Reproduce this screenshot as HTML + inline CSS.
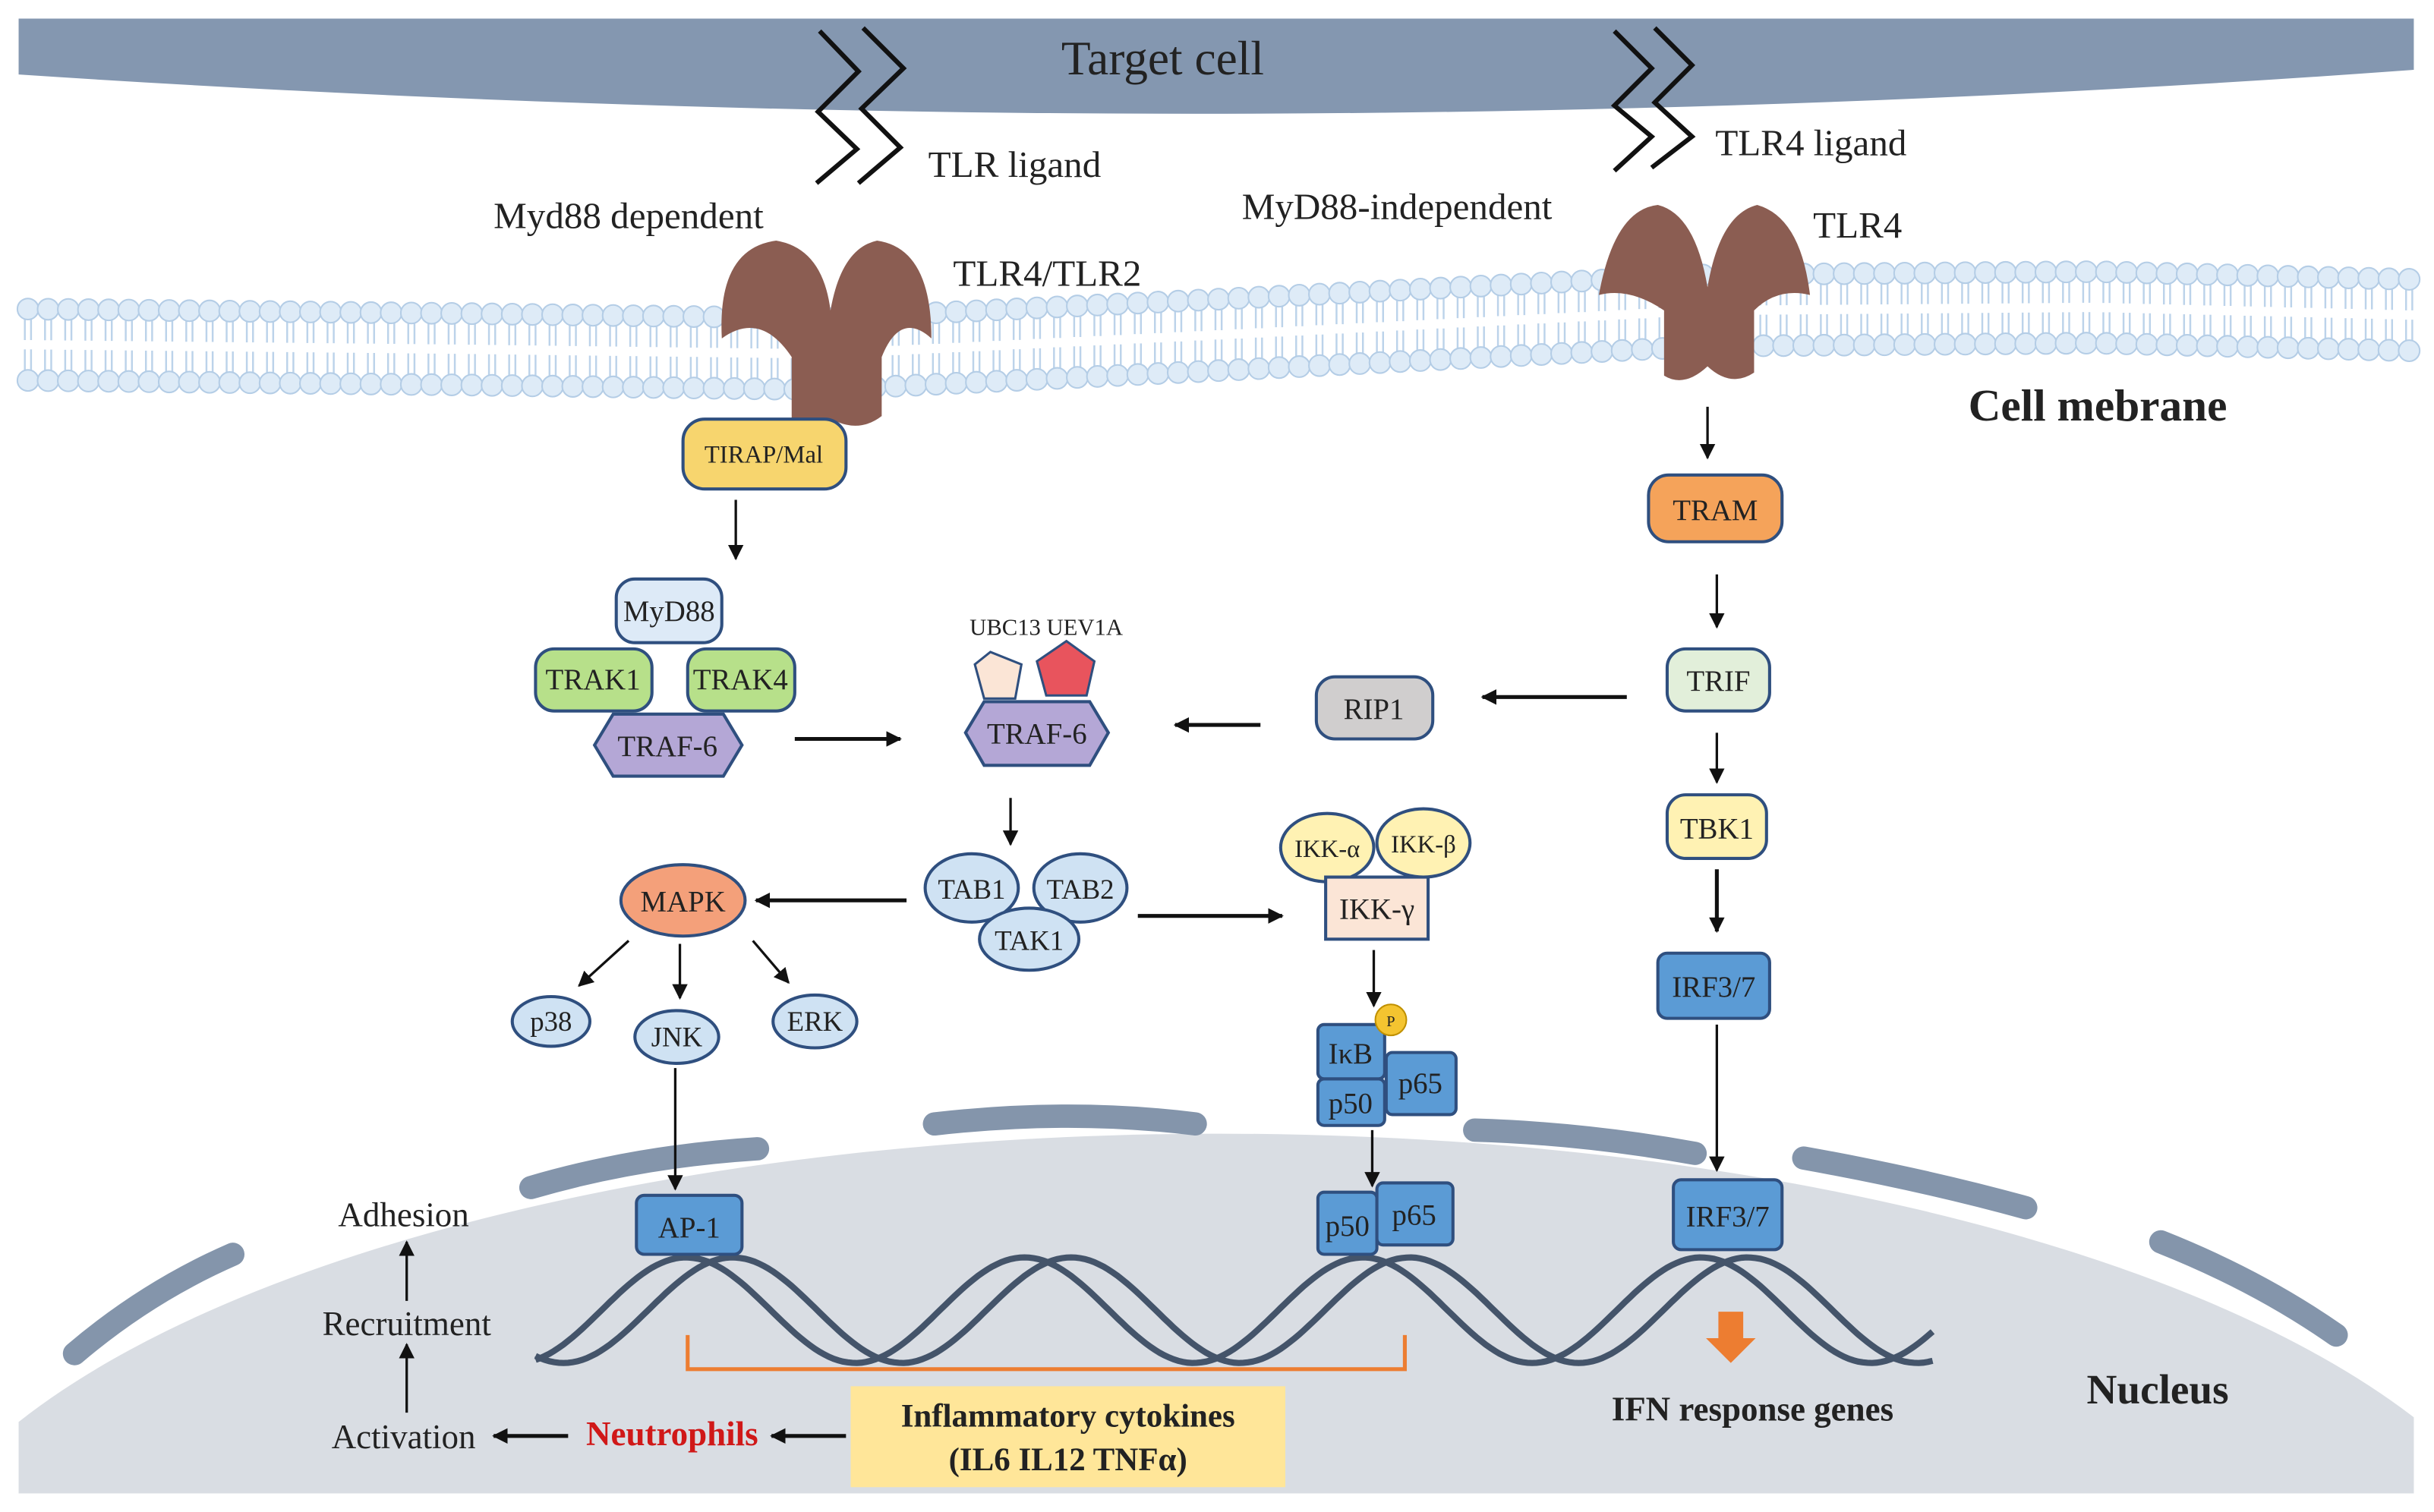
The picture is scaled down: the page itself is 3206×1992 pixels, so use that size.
<!DOCTYPE html>
<html><head><meta charset="utf-8"><style>
html,body{margin:0;padding:0;background:#fff;width:3206px;height:1992px;overflow:hidden;}
svg{display:block;}
text{font-family:"Liberation Serif",serif;fill:#222;}
</style></head><body>
<svg id="s" width="3206" height="1992" viewBox="0 0 1568 974" preserveAspectRatio="none" xmlns="http://www.w3.org/2000/svg">
<defs>
<marker id="ab" viewBox="0 0 10 10" refX="9" refY="5" markerWidth="10" markerHeight="10" orient="auto" markerUnits="userSpaceOnUse"><path d="M0,0 L10,5 L0,10 z" fill="#111"/></marker>
</defs>
<rect width="1568" height="974" fill="#fff"/>
<path d="M12,12 L1555,12 L1555,45 Q800,100 12,48 Z" fill="#8497b0"/>
<text x="749" y="48" font-size="31" text-anchor="middle">Target cell</text>
<g fill="none" stroke="#111" stroke-width="3">
<polyline points="528,20 553,46 527,72 552,96 526,118"/>
<polyline points="556,18 582,44 555,70 580,95 553,118"/>
<polyline points="1040,20 1064,44 1040,68 1064,88 1040,110"/>
<polyline points="1066,18 1090,42 1066,66 1090,88 1064,108"/>
</g>
<text x="598" y="114" font-size="24">TLR ligand</text>
<text x="318" y="147" font-size="24">Myd88 dependent</text>
<text x="614" y="184" font-size="24">TLR4/TLR2</text>
<text x="800" y="141" font-size="24">MyD88-independent</text>
<text x="1105" y="100" font-size="24">TLR4 ligand</text>
<text x="1168" y="153" font-size="24">TLR4</text>
<text x="1268" y="271" font-size="29" font-weight="bold">Cell mebrane</text>
<g id="mem"></g>
<g fill="#8b5d52">
<path d="M510,272 L510,230 Q490,200 465,218 Q462,160 500,155 Q530,160 535,200 Q542,160 565,155 Q600,160 600,218 Q580,200 568,230 L568,268 Q555,278 540,272 Z"/>
<path d="M1072,242 L1072,200 Q1050,185 1030,190 Q1040,135 1068,132 Q1092,138 1100,185 Q1108,138 1132,132 Q1160,140 1166,190 Q1145,185 1130,200 L1130,240 Q1115,250 1100,236 Q1085,250 1072,242 Z"/>
</g>
<path d="M12,962 L12,916 A860,330 0 0 1 1555,913 L1555,962 Z" fill="#d9dde3"/>
<g fill="none" stroke="#8495ab" stroke-width="15" stroke-linecap="round">
<path d="M48,872 Q95,832 150,808"/>
<path d="M342,765 Q410,745 488,740"/>
<path d="M602,724 Q690,714 770,724"/>
<path d="M950,728 Q1020,730 1092,743"/>
<path d="M1162,746 Q1240,760 1305,778"/>
<path d="M1392,800 Q1455,825 1505,860"/>
</g>
<g fill="none" stroke="#44546a" stroke-width="4" id="dna"></g>
<path d="M443,860 L443,882 L905,882 L905,860" fill="none" stroke="#ed7d31" stroke-width="2.5"/>
<path d="M1107,845 L1123,845 L1123,862 L1131,862 L1115,878 L1099,862 L1107,862 Z" fill="#ed7d31"/>
<g stroke="#111" stroke-width="1.6" marker-end="url(#ab)">
<line x1="474" y1="322" x2="474" y2="360"/>
<line x1="1100" y1="262" x2="1100" y2="295"/>
<line x1="1106" y1="370" x2="1106" y2="404"/>
<line x1="1106" y1="472" x2="1106" y2="504"/>
<line x1="1106" y1="660" x2="1106" y2="754"/>
<line x1="651" y1="514" x2="651" y2="544"/>
<line x1="405" y1="606" x2="373" y2="635"/>
<line x1="438" y1="608" x2="438" y2="643"/>
<line x1="485" y1="606" x2="508" y2="633"/>
<line x1="435" y1="688" x2="435" y2="766"/>
<line x1="885" y1="612" x2="885" y2="648"/>
<line x1="884" y1="728" x2="884" y2="764"/>
<line x1="262" y1="910" x2="262" y2="866"/>
<line x1="262" y1="838" x2="262" y2="800"/>
</g>
<g stroke="#111" stroke-width="2.5" marker-end="url(#ab)">
<line x1="512" y1="476" x2="580" y2="476"/>
<line x1="812" y1="467" x2="757" y2="467"/>
<line x1="1048" y1="449" x2="955" y2="449"/>
<line x1="1106" y1="560" x2="1106" y2="600"/>
<line x1="584" y1="580" x2="487" y2="580"/>
<line x1="733" y1="590" x2="826" y2="590"/>
<line x1="545" y1="925" x2="497" y2="925"/>
<line x1="366" y1="925" x2="318" y2="925"/>
</g>
<g stroke="#2f4f7f" stroke-width="2">
<rect x="440" y="270" width="105" height="45" rx="14" fill="#f7d56e"/>
<rect x="397" y="373" width="68" height="41" rx="12" fill="#ddeaf7"/>
<rect x="345" y="418" width="75" height="40" rx="12" fill="#b7e08a"/>
<rect x="443" y="418" width="69" height="40" rx="12" fill="#b7e08a"/>
<polygon points="383,480 395,460 466,460 478,480 466,500 395,500" fill="#b4a7d6"/>
<polygon points="638,420 658,428 654,450 634,450 628,428" fill="#fbe5d6" stroke-width="1.5"/>
<polygon points="687,413 705,426 700,448 674,448 668,426" fill="#e8545d" stroke-width="1.5"/>
<polygon points="622,472 634,452 702,452 714,472 702,493 634,493" fill="#b4a7d6"/>
<rect x="848" y="436" width="75" height="40" rx="12" fill="#d0cece"/>
<rect x="1062" y="306" width="86" height="43" rx="13" fill="#f5a35a"/>
<rect x="1074" y="418" width="66" height="40" rx="12" fill="#e2efda"/>
<rect x="1074" y="512" width="64" height="41" rx="12" fill="#fff2b3"/>
<rect x="1068" y="614" width="72" height="42" rx="6" fill="#5b9bd5"/>
<ellipse cx="626" cy="572" rx="30" ry="22" fill="#cfe2f3"/>
<ellipse cx="696" cy="572" rx="30" ry="22" fill="#cfe2f3"/>
<ellipse cx="663" cy="605" rx="32" ry="20" fill="#cfe2f3"/>
<ellipse cx="440" cy="580" rx="40" ry="23" fill="#f4a07a"/>
<ellipse cx="355" cy="658" rx="25" ry="16" fill="#cfe2f3"/>
<ellipse cx="436" cy="668" rx="27" ry="17" fill="#cfe2f3"/>
<ellipse cx="525" cy="658" rx="27" ry="17" fill="#cfe2f3"/>
<ellipse cx="855" cy="546" rx="30" ry="22" fill="#fff2b3"/>
<ellipse cx="917" cy="543" rx="30" ry="22" fill="#fff2b3"/>
<rect x="854" y="565" width="66" height="40" fill="#fbe5d6"/>
<rect x="849" y="660" width="43" height="35" rx="4" fill="#5b9bd5"/>
<rect x="849" y="695" width="43" height="30" rx="4" fill="#5b9bd5"/>
<rect x="893" y="678" width="45" height="40" rx="4" fill="#5b9bd5"/>
<circle cx="896" cy="657" r="10" fill="#f4c430" stroke="#c09000" stroke-width="1"/>
<rect x="410" y="770" width="68" height="38" rx="5" fill="#5b9bd5"/>
<rect x="849" y="768" width="38" height="40" rx="4" fill="#5b9bd5"/>
<rect x="887" y="762" width="49" height="40" rx="4" fill="#5b9bd5"/>
<rect x="1078" y="760" width="70" height="45" rx="5" fill="#5b9bd5"/>
</g>
<g font-size="19" text-anchor="middle">
<text x="492" y="298" font-size="16">TIRAP/Mal</text>
<text x="431" y="400">MyD88</text>
<text x="382" y="444">TRAK1</text>
<text x="477" y="444">TRAK4</text>
<text x="430" y="487">TRAF-6</text>
<text x="674" y="409" font-size="15">UBC13 UEV1A</text>
<text x="668" y="479">TRAF-6</text>
<text x="885" y="463">RIP1</text>
<text x="1105" y="335">TRAM</text>
<text x="1107" y="445">TRIF</text>
<text x="1106" y="540">TBK1</text>
<text x="1104" y="642">IRF3/7</text>
<text x="626" y="579" font-size="18">TAB1</text>
<text x="696" y="579" font-size="18">TAB2</text>
<text x="663" y="612" font-size="18">TAK1</text>
<text x="440" y="587">MAPK</text>
<text x="355" y="664" font-size="18">p38</text>
<text x="436" y="674" font-size="18">JNK</text>
<text x="525" y="664" font-size="18">ERK</text>
<text x="855" y="552" font-size="16">IKK-α</text>
<text x="917" y="549" font-size="16">IKK-β</text>
<text x="887" y="592">IKK-γ</text>
<text x="896" y="661" font-size="10">P</text>
<text x="870" y="685">IκB</text>
<text x="870" y="717">p50</text>
<text x="915" y="704">p65</text>
<text x="444" y="797">AP-1</text>
<text x="868" y="796">p50</text>
<text x="911" y="789">p65</text>
<text x="1113" y="790">IRF3/7</text>
</g>
<rect x="548" y="893" width="280" height="65" fill="#ffe699"/>
<g font-weight="bold" text-anchor="middle">
<text x="688" y="919" font-size="21">Inflammatory cytokines</text>
<text x="688" y="947" font-size="21">(IL6 IL12 TNFα)</text>
<text x="433" y="931" font-size="22" style="fill:#d01818">Neutrophils</text>
<text x="1129" y="915" font-size="22">IFN response genes</text>
<text x="1390" y="904" font-size="27">Nucleus</text>
</g>
<g font-size="22" text-anchor="middle">
<text x="260" y="933">Activation</text>
<text x="262" y="860">Recruitment</text>
<text x="260" y="790">Adhesion</text>
</g>
</svg>
<script>
(function(){
var mem=document.getElementById("mem");
var pts=[[12,222],[300,225],[530,228],[800,215],[1100,200],[1350,198],[1555,203]];
function cy(x){for(var i=0;i<pts.length-1;i++){if(x<=pts[i+1][0]){var t=(x-pts[i][0])/(pts[i+1][0]-pts[i][0]);return pts[i][1]+t*(pts[i+1][1]-pts[i][1]);}}return pts[pts.length-1][1];}
var h="";
for(var x=18;x<=1552;x+=13){var y=cy(x);
h+='<line x1="'+(x-2)+'" y1="'+(y-18)+'" x2="'+(x-2)+'" y2="'+(y-3)+'" stroke="#bcd3ea" stroke-width="1.2"/>';
h+='<line x1="'+(x+2)+'" y1="'+(y-18)+'" x2="'+(x+2)+'" y2="'+(y-3)+'" stroke="#bcd3ea" stroke-width="1.2"/>';
h+='<line x1="'+(x-2)+'" y1="'+(y+3)+'" x2="'+(x-2)+'" y2="'+(y+18)+'" stroke="#bcd3ea" stroke-width="1.2"/>';
h+='<line x1="'+(x+2)+'" y1="'+(y+3)+'" x2="'+(x+2)+'" y2="'+(y+18)+'" stroke="#bcd3ea" stroke-width="1.2"/>';
h+='<circle cx="'+x+'" cy="'+(y-23)+'" r="6.8" fill="#deebf7" stroke="#b4cde6" stroke-width="1"/>';
h+='<circle cx="'+x+'" cy="'+(y+23)+'" r="6.8" fill="#deebf7" stroke="#b4cde6" stroke-width="1"/>';}
mem.innerHTML=h;
var dna=document.getElementById("dna");
function strand(off){var d="";for(var x=345;x<=1245;x+=3){var y=844-34*Math.cos((x-off)/218*2*Math.PI);d+=(x==345?"M":"L")+x+","+y.toFixed(1);}return '<path d="'+d+'"/>';}
dna.innerHTML=strand(442)+strand(472);
})();
</script>
</body></html>
